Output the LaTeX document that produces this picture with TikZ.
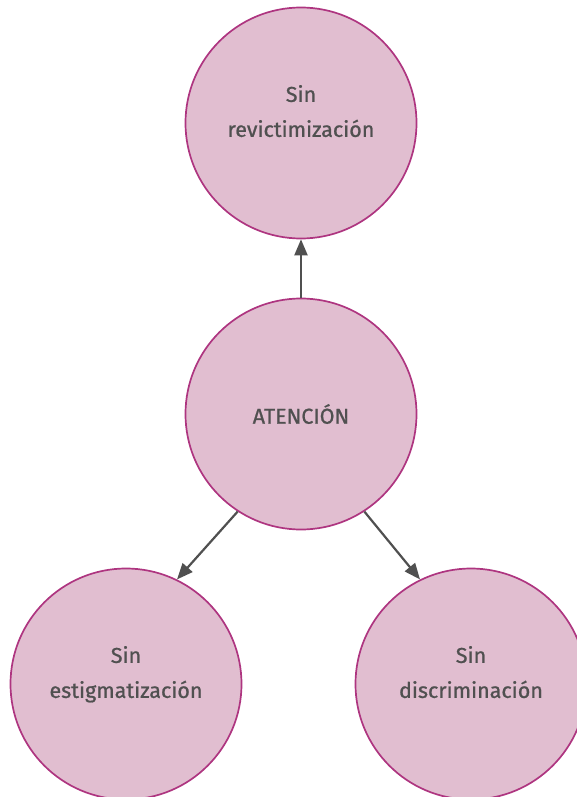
\documentclass[tikz,border=0pt]{standalone}
\usepackage{fontspec}
\setmainfont{Fira Sans}[UprightFeatures={FakeBold=0.9}]
\usepackage{tikz}
\usetikzlibrary{arrows.meta}
\definecolor{circfill}{HTML}{E1BED0}
\definecolor{circline}{HTML}{AE3580}
\definecolor{txtgray}{HTML}{505050}

\begin{document}
\begin{tikzpicture}[
    x=1pt, y=-1pt,
    every node/.style={font=\fontsize{21.5}{35}\selectfont, align=center, text=txtgray},
    bubble/.style={circle, draw=circline, line width=1.7pt, fill=circfill, inner sep=0pt, minimum size=231pt},
    upper/.style={text depth=24pt},
    link/.style={-{Triangle[length=16pt,width=13pt]}, draw=txtgray, fill=txtgray, line width=2.2pt}
]
\useasboundingbox (0,0) rectangle (576,797);
\node[bubble, upper] (rev) at (301,123) {Sin\\revictimización};
\node[bubble] (aten) at (301,414) {ATENCIÓN};
\node[bubble, upper] (est) at (126,684) {Sin\\estigmatización};
\node[bubble, upper] (disc) at (471,684) {Sin\\discriminación};
\draw[link] (aten) -- (rev);
\draw[link] (aten.237) -- (est.64);
\draw[link] (aten.303) -- (disc.116);
\end{tikzpicture}
\end{document}
